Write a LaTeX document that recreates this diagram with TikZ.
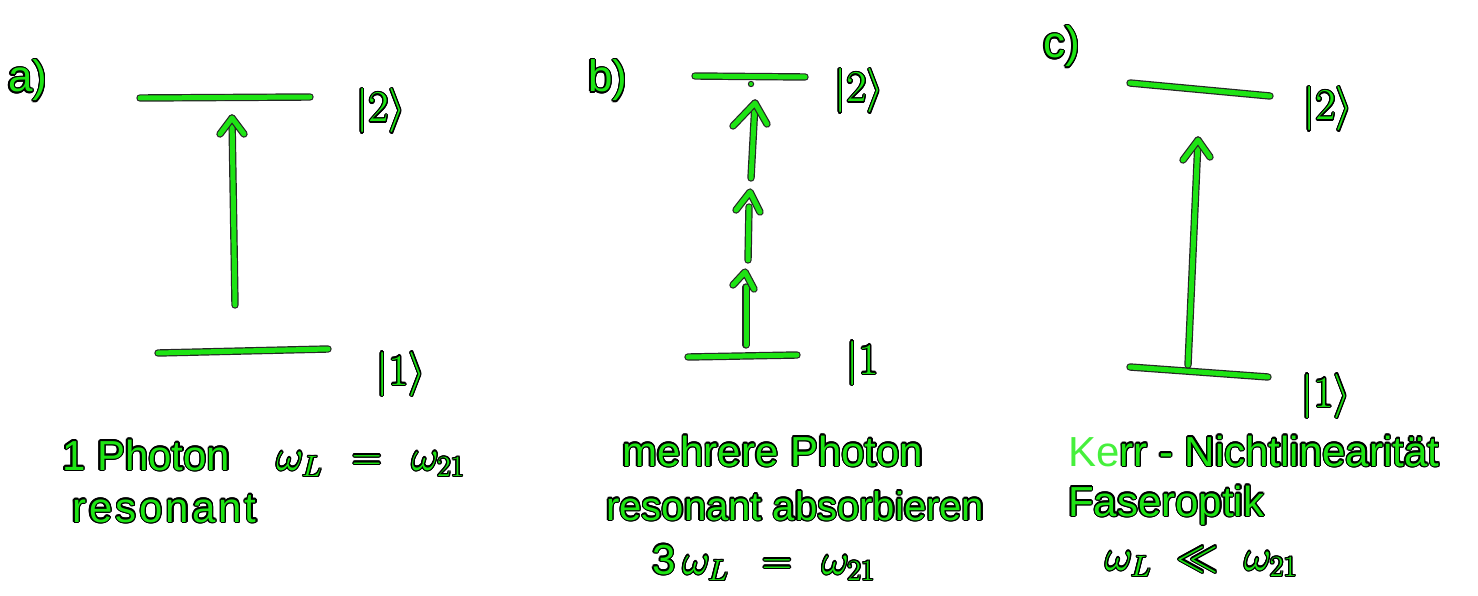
\RequirePackage{fix-cm}
\documentclass[tikz,border=0pt]{standalone}
\usepackage{fontspec}
\setmainfont{Liberation Sans}
\usepackage[copies]{contour}
\contourlength{1.3pt}
\contournumber{16}
\definecolor{hg}{RGB}{30,228,20}
\definecolor{hgl}{RGB}{70,240,60}
\tikzset{
  pen/.style={draw=black!85, double=hg, double distance=5pt, line width=1.2pt, line cap=round, line join=round},
  txt/.style={font=\fontsize{42}{46}\selectfont, text=hg, anchor=base west, inner sep=0pt},
  ket/.style={font=\fontsize{44}{48}\selectfont, text=hg, anchor=base west, inner sep=0pt}
}
\newcommand{\ol}[1]{\contour{black}{#1}}
\begin{document}
\begin{tikzpicture}[x=1pt,y=-1pt]
\useasboundingbox (0,0) rectangle (1478,596);
\fill[white] (0,0) rectangle (1478,596);
% ---------- a) ----------
\node[ket] (la) at (8,92) {\ol{a)}};
\coordinate (a2l) at (140,98); \coordinate (a2r) at (310,97);
\coordinate (a1l) at (158,353); \coordinate (a1r) at (328,349);
\draw[pen] (a2l) -- (a2r);
\draw[pen] (a1l) -- (a1r);
\coordinate (aS) at (235,305); \coordinate (aT) at (232,118);
\draw[pen] (aS) -- (aT);
\coordinate (aL) at (220,134); \coordinate (aR) at (244,134);
\draw[pen] (aL) -- (aT) -- (aR);
\node[ket] (ka2) at (356,122) {\ol{$|2\rangle$}};
\node[ket] (ka1) at (376,385) {\ol{$|1\rangle$}};
\node[txt] (ta1) at (62,470) {\ol{1 Photon\hspace{46pt}\(\omega_L\hspace{18pt}=\hspace{18pt}\omega_{21}\)}};
\node[txt] (ta2) at (72,522) {\ol{r\hspace{3pt}e\hspace{3pt}s\hspace{3pt}o\hspace{3pt}n\hspace{3pt}a\hspace{3pt}n\hspace{3pt}t}};
% ---------- b) ----------
\node[ket] (lb) at (588,92) {\ol{b)}};
\coordinate (b2l) at (695,76); \coordinate (b2r) at (805,77);
\coordinate (b1l) at (688,357); \coordinate (b1r) at (797,355);
\draw[pen] (b2l) -- (b2r);
\draw[pen] (b1l) -- (b1r);
\fill[black!85] (751,84) circle (3.2pt); \fill[hg] (751,84) circle (2pt);
\coordinate (bS1) at (746,345); \coordinate (bE1) at (746,287);
\coordinate (bT1) at (745,272); \coordinate (bL1) at (733,285); \coordinate (bR1) at (754,289);
\coordinate (bS2) at (748,260); \coordinate (bE2) at (749,207);
\coordinate (bT2) at (750,192); \coordinate (bL2) at (736,210); \coordinate (bR2) at (760,212);
\coordinate (bS3) at (751,178); \coordinate (bT3) at (755,103);
\coordinate (bL3) at (733,126); \coordinate (bR3) at (767,124);
\draw[pen] (bS1) -- (bE1);
\draw[pen] (bL1) -- (bT1) -- (bR1);
\draw[pen] (bS2) -- (bE2);
\draw[pen] (bL2) -- (bT2) -- (bR2);
\draw[pen] (bS3) -- (bT3);
\draw[pen] (bL3) -- (bT3) -- (bR3);
\node[ket] (kb2) at (834,102) {\ol{$|2\rangle$}};
\node[ket] (kb1) at (846,374) {\ol{$|1$}};
\node[txt] (tb1) at (622,466) {\ol{mehrere Photon}};
\node[txt, font=\fontsize{40}{44}\selectfont] (tb2) at (606,520) {\ol{resonant absorbieren}};
\node[txt] (tb3) at (652,574) {\ol{3\(\,\omega_L\hspace{22pt}=\hspace{18pt}\omega_{21}\)}};
% ---------- c) ----------
\node[ket] (lc) at (1043,58) {\ol{c)}};
\coordinate (c2l) at (1130,83); \coordinate (c2r) at (1270,96);
\coordinate (c1l) at (1130,367); \coordinate (c1r) at (1268,377);
\draw[pen] (c2l) -- (c2r);
\draw[pen] (c1l) -- (c1r);
\coordinate (cS) at (1188,365); \coordinate (cT) at (1198,140);
\coordinate (cL) at (1183,160); \coordinate (cR) at (1210,157);
\draw[pen] (cS) -- (cT);
\draw[pen] (cL) -- (cT) -- (cR);
\node[ket] (kc2) at (1303,120) {\ol{$|2\rangle$}};
\node[ket] (kc1) at (1301,407) {\ol{$|1\rangle$}};
\node[txt] (tc1) at (1068,466) {\textcolor{hgl}{Ke}\ol{rr - Nichtlinearität}};
\node[txt] (tc2) at (1068,516) {\ol{Faseroptik}};
\node[txt] (tc3) at (1105,570) {\ol{\(\omega_L\hspace{14pt}\ll\hspace{14pt}\omega_{21}\)}};
\end{tikzpicture}
\end{document}
